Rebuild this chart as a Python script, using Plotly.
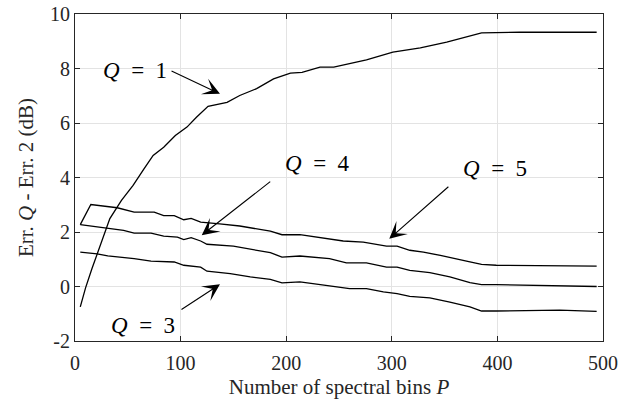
import plotly.graph_objects as go

# ---- data ----
P_Q1 = [5, 10, 16, 21, 27, 33, 44, 55, 65, 74, 84, 95, 106, 115, 126, 136, 144, 156, 172, 188, 204, 215, 232, 245, 264, 276, 301, 327, 352, 385, 421, 494]
ERR_Q1 = [-0.75, -0.05, 0.65, 1.2, 1.9, 2.49, 3.16, 3.71, 4.3, 4.81, 5.11, 5.54, 5.85, 6.21, 6.61, 6.68, 6.76, 7.01, 7.26, 7.62, 7.83, 7.86, 8.05, 8.05, 8.23, 8.32, 8.6, 8.76, 8.97, 9.31, 9.33, 9.33]

P_Q5 = [5, 15, 40, 56, 75, 84, 94, 103, 110, 119, 137, 156, 185, 196, 213, 241, 254, 273, 295, 305, 317, 330, 346, 374, 385, 399, 494]
ERR_Q5 = [2.27, 3.01, 2.89, 2.73, 2.73, 2.6, 2.6, 2.45, 2.5, 2.36, 2.3, 2.22, 2.03, 1.9, 1.9, 1.73, 1.67, 1.63, 1.48, 1.48, 1.33, 1.26, 1.14, 0.9, 0.81, 0.78, 0.75]

P_Q4 = [5, 31, 46, 56, 72, 84, 97, 103, 110, 119, 125, 150, 175, 185, 196, 213, 241, 257, 276, 295, 305, 317, 336, 355, 374, 385, 399, 459, 494]
ERR_Q4 = [2.27, 2.12, 2.06, 1.96, 1.96, 1.85, 1.81, 1.72, 1.79, 1.67, 1.55, 1.48, 1.3, 1.24, 1.08, 1.12, 1.02, 0.87, 0.87, 0.71, 0.71, 0.59, 0.51, 0.35, 0.14, 0.07, 0.07, 0.04, 0.0]

P_Q3 = [5, 21, 31, 43, 56, 72, 94, 103, 119, 125, 147, 166, 185, 196, 213, 241, 260, 276, 292, 305, 317, 336, 355, 374, 385, 399, 459, 494]
ERR_Q3 = [1.26, 1.2, 1.12, 1.08, 1.02, 0.93, 0.9, 0.78, 0.71, 0.56, 0.47, 0.35, 0.26, 0.13, 0.17, 0.02, -0.08, -0.08, -0.2, -0.26, -0.36, -0.42, -0.57, -0.75, -0.9, -0.9, -0.87, -0.91]

X_TICKS = [0, 100, 200, 300, 400, 500]
X_TICK_LABELS = ["0", "100", "200", "300", "400", "500"]
Y_TICKS = [-2, 0, 2, 4, 6, 8, 10]
Y_TICK_LABELS = ["-2", "0", "2", "4", "6", "8", "10"]

# label text, text position, arrow tail, arrow tip
LABELS = ["<i>Q</i>&nbsp;&nbsp;=&nbsp;&nbsp;1", "<i>Q</i>&nbsp;&nbsp;=&nbsp;&nbsp;4",
          "<i>Q</i>&nbsp;&nbsp;=&nbsp;&nbsp;5", "<i>Q</i>&nbsp;&nbsp;=&nbsp;&nbsp;3"]
LABEL_X = [56.8, 229.6, 397.7, 64.7]
LABEL_Y = [7.93, 4.52, 4.33, -1.42]
TAIL_X = [90, 186.3, 355, 99.4]
TAIL_Y = [7.93, 3.89, 3.71, -0.88]
TIP_X = [137.3, 120, 297.6, 137.3]
TIP_Y = [7.07, 1.88, 1.75, 0.08]

FONT = "Liberation Serif, Times New Roman, DejaVu Serif, serif"

fig = go.Figure()
for xs, ys in [(P_Q1, ERR_Q1), (P_Q5, ERR_Q5), (P_Q4, ERR_Q4), (P_Q3, ERR_Q3)]:
    fig.add_trace(go.Scatter(x=xs, y=ys, mode="lines",
                             line=dict(color="black", width=1.3),
                             showlegend=False, hoverinfo="skip"))

annotations = []
for t, lx, ly in zip(LABELS, LABEL_X, LABEL_Y):
    annotations.append(dict(x=lx, y=ly, xref="x", yref="y", text=t, showarrow=False,
                            font=dict(family=FONT, size=23, color="black"),
                            xanchor="center", yanchor="middle"))
for tx, ty, hx, hy in zip(TAIL_X, TAIL_Y, TIP_X, TIP_Y):
    annotations.append(dict(x=hx, y=hy, xref="x", yref="y", ax=tx, ay=ty,
                            axref="x", ayref="y", text="", showarrow=True,
                            arrowhead=3, arrowsize=2.6, arrowwidth=1.1,
                            arrowcolor="black", standoff=0, startstandoff=0))

axis_common = dict(showline=True, linecolor="#262626", linewidth=1, mirror="allticks",
                   ticks="inside", ticklen=5, tickcolor="#262626", automargin=False,
                   showgrid=True, gridcolor="#e3e3e3", gridwidth=1, zeroline=False,
                   tickfont=dict(family=FONT, size=20, color="#262626"))

fig.update_layout(
    width=641, height=403,
    margin=dict(l=75, r=38, t=14, b=62),
    paper_bgcolor="white", plot_bgcolor="white",
    xaxis=dict(range=[0, 500], tickvals=X_TICKS, ticktext=X_TICK_LABELS,
               ticklabelstandoff=4,
               title=dict(text="Number of spectral bins <i>P</i>",
                          font=dict(family=FONT, size=21, color="#262626"), standoff=6),
               **axis_common),
    yaxis=dict(range=[-2, 10], tickvals=Y_TICKS, ticktext=Y_TICK_LABELS,
               title=dict(text="Err. <i>Q</i> - Err. 2 (dB)",
                          font=dict(family=FONT, size=21, color="#262626"), standoff=10),
               **axis_common),
    annotations=annotations,
)

fig.write_html("out.html")
